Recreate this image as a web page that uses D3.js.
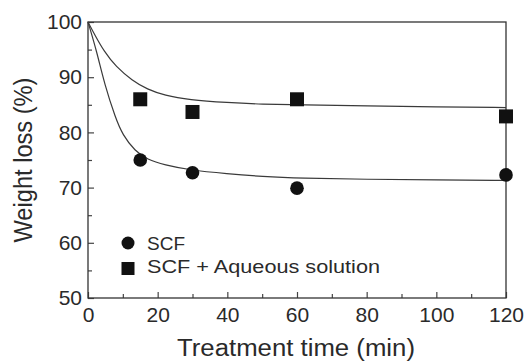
<!DOCTYPE html>
<html lang="en">
<head>
    <meta charset="UTF-8">
    <title>Weight loss vs treatment time</title>
    <style>
        body {
            margin: 0;
            background-color: #ffffff;
        }
        svg text {
            font-family: 'Liberation Sans', Arial, sans-serif;
            fill: #2a2a2a;
        }
        .axis path { display: none; }
        .axis line { stroke: #444; stroke-width: 1.2; }
    </style>
    <script src="https://d3js.org/d3.v7.min.js"></script>
</head>
<body>
<svg id="chart" width="524" height="361"></svg>
<script>
    // Measured points (treatment time in min, weight loss in %)
    const times = [15, 30, 60, 120];
    const scfValues = [75.0, 72.7, 69.9, 72.3];
    const scfAqValues = [86.0, 83.7, 86.0, 82.9];

    // Fitted curves: [time, weight loss]
    const scfCurve = [[0, 100], [2.5, 94.7], [4.8, 88.6], [7.9, 82.6], [9.9, 79.6], [13.5, 76.6],
        [17, 75.1], [22, 74.1], [29, 73.2], [40, 72.5], [50, 72.0], [61, 71.7], [80, 71.5], [100, 71.4], [120, 71.3]];
    const scfAqCurve = [[0, 100], [2, 97.6], [4.6, 94.7], [8, 91.9], [12.7, 89.4], [17, 87.8],
        [22, 86.7], [29, 85.9], [40, 85.4], [50, 85.1], [61, 85.0], [80, 84.8], [100, 84.6], [120, 84.5]];

    const xMajor = [0, 20, 40, 60, 80, 100, 120];
    const xMinor = [10, 30, 50, 70, 90, 110];
    const yMajor = [50, 60, 70, 80, 90, 100];
    const yMinor = [55, 65, 75, 85, 95];

    const legendLabels = ["SCF", "SCF + Aqueous solution"];
    const legendWidths = [38, 233];

    const svg = d3.select("#chart");
    const margin = {top: 22, right: 18, bottom: 63, left: 88};
    const width = 524 - margin.left - margin.right,
        height = 361 - margin.top - margin.bottom;

    const g = svg.append("g").attr("transform", `translate(${margin.left},${margin.top})`);

    const x = d3.scaleLinear().domain([0, 120]).range([0, width]);
    const y = d3.scaleLinear().domain([50, 100]).range([height, 0]);

    // inward ticks
    g.append("g").attr("class", "axis").attr("transform", `translate(0,${height})`)
        .call(d3.axisBottom(x).tickValues(xMajor).tickSize(-6).tickPadding(9))
        .selectAll("text").attr("font-size", 21).attr("fill", "#2a2a2a");
    g.append("g").attr("class", "axis").attr("transform", `translate(0,${height})`)
        .call(d3.axisBottom(x).tickValues(xMinor).tickSize(-4).tickFormat(""));
    g.append("g").attr("class", "axis")
        .call(d3.axisLeft(y).tickValues(yMajor).tickSize(-6).tickPadding(6))
        .selectAll("text").attr("font-size", 21).attr("fill", "#2a2a2a");
    g.append("g").attr("class", "axis")
        .call(d3.axisLeft(y).tickValues(yMinor).tickSize(-4).tickFormat(""));

    // frame
    g.append("rect")
        .attr("width", width).attr("height", height)
        .attr("fill", "none").attr("stroke", "#333").attr("stroke-width", 1.3);

    // fitted curves
    const line = d3.line().x(d => x(d[0])).y(d => y(d[1])).curve(d3.curveBasis);
    [scfCurve, scfAqCurve].forEach(c => {
        g.append("path").datum(c).attr("d", line)
            .attr("fill", "none").attr("stroke", "#3a3a3a").attr("stroke-width", 1.2);
    });

    // markers
    g.selectAll("circle.pt").data(times).enter().append("circle")
        .attr("class", "pt")
        .attr("cx", d => x(d)).attr("cy", (d, i) => y(scfValues[i]))
        .attr("r", 6.8).attr("fill", "#111");
    const sq = 14;
    g.selectAll("rect.pt").data(times).enter().append("rect")
        .attr("class", "pt")
        .attr("x", d => x(d) - sq / 2).attr("y", (d, i) => y(scfAqValues[i]) - sq / 2)
        .attr("width", sq).attr("height", sq).attr("fill", "#111");

    // legend
    const legend = svg.append("g").attr("transform", "translate(128,243)");
    legend.append("circle").attr("cx", 0).attr("cy", 0).attr("r", 6.5).attr("fill", "#111");
    legend.append("rect").attr("x", -6.5).attr("y", 19).attr("width", 13).attr("height", 13).attr("fill", "#111");
    legend.selectAll("text").data(legendLabels).enter().append("text")
        .attr("x", 19).attr("y", (d, i) => 7 + i * 23)
        .attr("font-size", 18.5)
        .attr("textLength", (d, i) => legendWidths[i])
        .attr("lengthAdjust", "spacingAndGlyphs")
        .text(d => d);

    // axis titles
    svg.append("text")
        .attr("x", 296).attr("y", 356)
        .attr("text-anchor", "middle").attr("font-size", 23)
        .attr("textLength", 238).attr("lengthAdjust", "spacingAndGlyphs")
        .text("Treatment time (min)");
    svg.append("text")
        .attr("transform", "translate(32,160) rotate(-90)")
        .attr("text-anchor", "middle").attr("font-size", 26)
        .attr("textLength", 165).attr("lengthAdjust", "spacingAndGlyphs")
        .text("Weight loss (%)");
</script>
</body>
</html>
